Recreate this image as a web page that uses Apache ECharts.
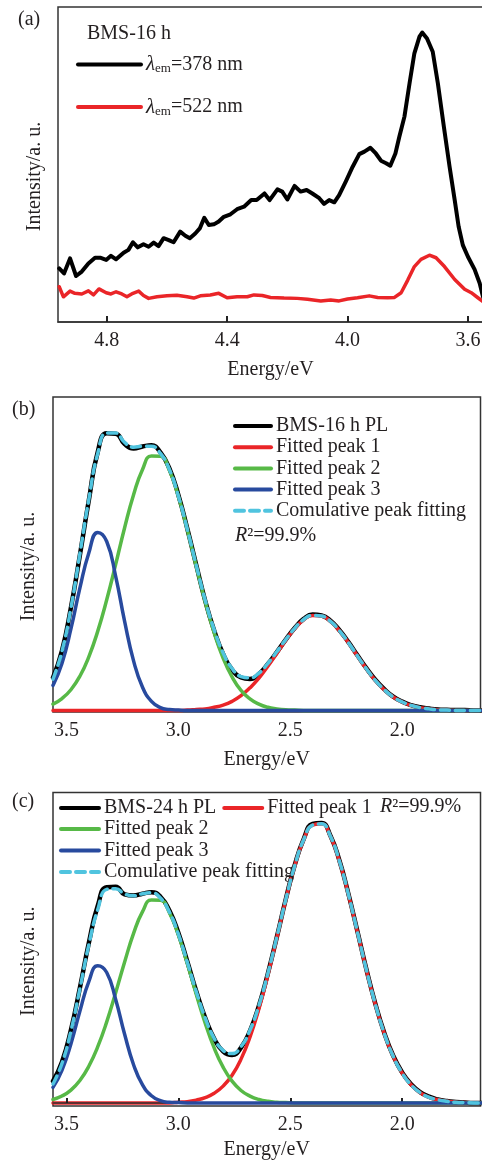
<!DOCTYPE html>
<html><head><meta charset="utf-8">
<script src="https://cdn.jsdelivr.net/npm/echarts@6/dist/echarts.min.js"></script>
<style>html,body{margin:0;padding:0;background:#fff}#chart{width:482px;height:1162px}</style>
</head><body><div id="chart"></div>
<script>
// ---------- Panel (a): excitation spectra ----------
const aEnergy378 = [4.958,4.942,4.922,4.902,4.883,4.861,4.839,4.822,4.802,4.786,4.769,4.744,4.728,4.713,4.697,4.678,4.661,4.644,4.628,4.611,4.594,4.578,4.556,4.539,4.524,4.506,4.491,4.476,4.461,4.444,4.428,4.411,4.389,4.367,4.344,4.320,4.302,4.276,4.259,4.233,4.217,4.200,4.176,4.156,4.136,4.117,4.094,4.078,4.061,4.044,4.028,4.006,3.983,3.961,3.944,3.924,3.906,3.889,3.872,3.858,3.841,3.828,3.811,3.794,3.778,3.761,3.752,3.736,3.717,3.700,3.680,3.661,3.644,3.631,3.617,3.600,3.578,3.561,3.550];
const aIntensity378 = [17.0,15.4,20.2,14.6,16.0,18.6,20.4,20.4,19.7,21.0,19.9,22.0,22.9,25.3,23.7,24.7,23.9,25.2,24.1,26.6,26.0,25.3,28.7,27.4,26.6,28.1,29.7,33.1,30.8,31.0,31.9,33.4,34.2,35.8,36.6,38.7,38.7,40.8,38.7,42.1,41.4,38.9,43.2,41.4,41.9,40.8,39.3,37.5,38.7,38.0,40.3,44.6,49.3,53.3,54.1,55.3,53.5,51.2,50.4,49.6,53.5,58.8,65.2,75.8,85.3,90.6,91.9,90.0,85.8,75.8,62.0,49.3,38.7,30.3,24.4,20.7,16.7,12.3,8.0];
const aEnergy522 = [4.958,4.944,4.922,4.906,4.883,4.861,4.844,4.826,4.802,4.786,4.769,4.750,4.733,4.713,4.694,4.678,4.661,4.633,4.600,4.567,4.533,4.511,4.489,4.456,4.428,4.400,4.367,4.333,4.311,4.283,4.256,4.211,4.167,4.133,4.089,4.056,4.028,4.000,3.967,3.928,3.900,3.867,3.844,3.822,3.800,3.778,3.756,3.728,3.706,3.678,3.644,3.611,3.589,3.567,3.550];
const aIntensity522 = [11.2,8.0,9.8,9.1,8.9,9.9,8.6,10.5,9.3,8.9,9.6,8.9,8.0,9.1,9.8,8.4,7.5,8.0,8.3,8.5,8.0,7.6,8.3,8.6,9.1,7.7,8.0,8.0,8.6,8.4,7.8,7.6,7.5,7.2,6.7,7.0,6.7,7.3,7.7,8.3,7.8,7.7,7.8,9.3,13.3,17.6,19.9,21.2,20.4,17.6,13.5,10.4,9.3,7.7,6.5];
const aTicks = [4.8, 4.4, 4.0, 3.6];

// ---------- Panels (b) and (c): PL peak fitting ----------
const fitEnergy = [3.56,3.52,3.48,3.44,3.40,3.36,3.32,3.28,3.24,3.20,3.16,3.12,3.08,3.04,3.00,2.96,2.92,2.88,2.84,2.80,2.76,2.72,2.68,2.64,2.60,2.56,2.52,2.48,2.44,2.40,2.36,2.32,2.28,2.24,2.20,2.16,2.12,2.08,2.04,2.00,1.96,1.92,1.88,1.84,1.80,1.76,1.72,1.68,1.64];
const fitTicks = [3.5, 3.0, 2.5, 2.0];

const bPL = [10.5,19.0,32.8,49.5,67.0,82.5,88.4,88.3,85.0,83.6,84.2,84.6,82.3,77.2,68.8,58.0,46.4,35.0,25.5,18.0,13.0,10.5,10.0,11.6,14.8,18.6,22.6,26.3,29.2,30.6,30.3,28.6,25.6,21.8,17.6,13.5,9.8,6.8,4.4,2.8,1.7,1.0,0.6,0.3,0.2,0.1,0.1,0,0];
const bPeak1 = [0,0,0,0,0,0,0,0,0,0,0,0,0,0,0,0.1,0.3,0.5,1.0,1.7,2.9,4.7,7.2,10.3,14.1,18.2,22.4,26.1,28.9,30.3,30.1,28.4,25.4,21.6,17.4,13.3,9.6,6.6,4.3,2.7,1.6,0.9,0.5,0.2,0.1,0,0,0,0];
const bPeak2 = [2.0,3.8,6.6,10.9,17.1,25.3,35.3,46.6,58.3,68.8,76.9,81.2,81.1,76.6,68.3,57.7,46.0,34.7,24.8,16.7,10.7,6.4,3.7,2.0,1.0,0.5,0.2,0.1,0,0,0,0,0,0,0,0,0,0,0,0,0,0,0,0,0,0,0,0,0];
const bPeak3 = [8.0,15.0,26.0,39.0,50.2,56.8,53.9,42.8,28.4,15.8,7.4,2.9,0.9,0.3,0.1,0,0,0,0,0,0,0,0,0,0,0,0,0,0,0,0,0,0,0,0,0,0,0,0,0,0,0,0,0,0,0,0,0,0];
const bCumulative = [10.0,18.8,32.6,49.9,67.3,82.0,88.5,88.5,85.5,84.0,84.3,84.3,82.0,76.9,68.4,57.8,46.3,35.2,25.8,18.4,13.4,10.8,10.4,11.9,15.0,18.7,22.6,26.2,29.0,30.3,30.1,28.4,25.4,21.6,17.4,13.3,9.6,6.6,4.3,2.7,1.6,0.9,0.5,0.2,0.1,0,0,0,0];

const cPL = [7.0,13.2,23.5,37.0,51.5,63.5,69.5,69.6,67.2,66.8,67.4,67.9,66.4,62.0,54.8,45.6,36.0,27.4,20.7,16.6,15.4,17.8,23.2,31.3,41.7,53.4,65.6,76.6,85.0,89.9,90.2,86.0,78.0,67.3,55.3,43.1,32.0,22.6,15.2,9.8,6.0,3.5,2.0,1.1,0.6,0.3,0.1,0,0];
const cPeak1 = [0,0,0,0,0,0,0,0,0,0,0,0,0,0,0.2,0.4,0.9,1.7,3.1,5.4,8.9,14.1,21.2,30.3,41.2,53.2,65.4,76.4,84.8,89.5,89.9,85.8,77.8,67.1,55.1,42.9,31.8,22.4,15.0,9.6,5.8,3.3,1.8,1.0,0.5,0.2,0.1,0,0];
const cPeak2 = [1.1,2.2,4.1,7.2,11.8,18.1,26.1,35.5,45.4,54.6,61.6,65.4,65.3,61.3,54.1,44.9,35.0,25.7,17.7,11.5,7.0,4.0,2.2,1.1,0.5,0.2,0.1,0,0,0,0,0,0,0,0,0,0,0,0,0,0,0,0,0,0,0,0,0,0];
const cPeak3 = [5.0,10.5,19.0,29.5,39.1,44.2,42.0,33.3,22.1,12.3,5.8,2.3,0.7,0.2,0.1,0,0,0,0,0,0,0,0,0,0,0,0,0,0,0,0,0,0,0,0,0,0,0,0,0,0,0,0,0,0,0,0,0,0];
const cCumulative = [6.1,12.7,23.1,36.7,50.9,62.3,68.8,69.0,67.3,66.7,67.4,67.7,66.0,61.5,54.4,45.3,35.9,27.4,20.8,16.9,15.9,18.1,23.4,31.4,41.7,53.4,65.5,76.4,84.8,89.5,89.9,85.8,77.8,67.1,55.1,42.9,31.8,22.4,15.0,9.6,5.8,3.3,1.8,1.0,0.5,0.2,0.1,0,0];

// ---------- styling ----------
const FONT = 'Liberation Serif';
const TXT = '#231f20';
const C_BLACK = '#000000', C_RED = '#ea2528', C_GREEN = '#57b947', C_BLUE = '#284a9e', C_CYAN = '#50c4df';
const zip = (xs, ys) => xs.map((x, i) => [x, ys[i]]);

function xAxisCfg(gridIndex, min, max, ticks, tickOpts, nameGap) {
  return {
    type: 'value', gridIndex, min, max, inverse: true,
    name: 'Energy/eV', nameLocation: 'middle', nameGap: nameGap || 38,
    nameTextStyle: { fontFamily: FONT, fontSize: 20, color: TXT },
    axisLine: { show: true, lineStyle: { color: '#333', width: 1.5 } },
    axisTick: Object.assign({ show: true, inside: true, length: 6, customValues: ticks, lineStyle: { color: '#222', width: 2 } }, tickOpts || {}),
    axisLabel: { customValues: ticks, margin: 9, fontFamily: FONT, fontSize: 20, color: TXT, formatter: v => Number(v).toFixed(1) },
    splitLine: { show: false }
  };
}
function yAxisCfg(gridIndex, min, max, gap) {
  return {
    type: 'value', gridIndex, min, max,
    name: 'Intensity/a. u.', nameLocation: 'middle', nameGap: gap, nameRotate: 90,
    nameTextStyle: { fontFamily: FONT, fontSize: 20, color: TXT, padding: [0, 24, 0, 0] },
    axisLine: { show: false }, axisTick: { show: false }, axisLabel: { show: false }, splitLine: { show: false }
  };
}
function line(name, xi, data, color, width, dash, smooth, z) {
  return {
    type: 'line', name, xAxisIndex: xi, yAxisIndex: xi, data,
    symbol: 'none', smooth: smooth ? 0.5 : false,
    lineStyle: { color, width, type: dash || 'solid', cap: 'round', join: 'round' },
    itemStyle: { color }, z: z || 2, animation: false
  };
}
const legendText = { fontFamily: FONT, fontSize: 20, color: TXT,
  rich: { i: { fontFamily: FONT, fontSize: 21, fontStyle: 'italic', color: TXT },
          s: { fontFamily: FONT, fontSize: 13, color: TXT, padding: [9, 0, 0, 0] } } };
function legendCfg(data, left, top, orient, itemWidth, itemGap) {
  return {
    data, left, top, orient, itemWidth, itemHeight: 20, itemGap, padding: 0,
    textStyle: legendText, selectedMode: false,
    lineStyle: { width: 4, cap: 'round' }, itemStyle: { opacity: 0 },
    formatter: n => n.replace('λem', '{i|λ}{s|em}')
  };
}
const titleTxt = (text, left, top) => ({
  text, left, top, padding: 0,
  textStyle: { fontFamily: FONT, fontSize: 20, fontWeight: 'normal', color: TXT,
    rich: { i: { fontFamily: FONT, fontSize: 20, fontStyle: 'italic', color: TXT } } }
});
const gridCfg = (top, left, width, height) => ({
  left, top, width, height, show: true, borderColor: '#333', borderWidth: 1.5,
  containLabel: false, outerBoundsMode: 'none'
});

const chart = echarts.init(document.getElementById('chart'), null, { renderer: 'canvas', width: 482, height: 1162 });
chart.setOption({
  animation: false,
  backgroundColor: '#fff',
  title: [
    titleTxt('(a)', 18, 10), titleTxt('BMS-16 h', 87, 24),
    titleTxt('(b)', 12, 400), titleTxt('{i|R}²=99.9%', 235, 526),
    titleTxt('(c)', 12, 792), titleTxt('{i|R}²=99.9%', 380, 797)
  ],
  grid: [
    gridCfg(7, 58, 425, 315),
    gridCfg(397, 53, 427.5, 315),
    gridCfg(792.5, 53, 427.5, 313.5)
  ],
  xAxis: [
    xAxisCfg(0, 3.55, 4.962, aTicks),
    xAxisCfg(1, 1.65, 3.56, fitTicks, { show: false }),
    Object.assign(xAxisCfg(2, 1.65, 3.56, fitTicks, { length: 5 }, 34), { z: 5 })
  ],
  yAxis: [ yAxisCfg(0, 0, 100, 13), yAxisCfg(1, -0.5, 100, 14), yAxisCfg(2, -1, 100, 14) ],
  legend: [
    legendCfg(['λem=378 nm', 'λem=522 nm'], 76, 54, 'vertical', 63, 21),
    legendCfg(['BMS-16 h PL', 'Fitted peak 1', 'Fitted peak 2', 'Fitted peak 3', 'Comulative peak fitting'], 233, 416, 'vertical', 36, 1.2),
    legendCfg(['BMS-24 h PL', 'Fitted peak 1'], 59, 798, 'horizontal', 38, 6),
    legendCfg(['Fitted peak 2', 'Fitted peak 3', 'Comulative peak fitting'], 59, 819, 'vertical', 38, 1.5)
  ],
  series: [
    line('λem=378 nm', 0, zip(aEnergy378, aIntensity378), C_BLACK, 4, null, false, 3),
    line('λem=522 nm', 0, zip(aEnergy522, aIntensity522), C_RED, 3.5, null, false, 2),

    line('BMS-16 h PL', 1, zip(fitEnergy, bPL), C_BLACK, 4.5, null, true, 2),
    line('Fitted peak 1', 1, zip(fitEnergy, bPeak1), C_RED, 3.5, null, true, 3),
    line('Fitted peak 2', 1, zip(fitEnergy, bPeak2), C_GREEN, 3.5, null, true, 4),
    line('Fitted peak 3', 1, zip(fitEnergy, bPeak3), C_BLUE, 3.5, null, true, 5),
    line('Comulative peak fitting', 1, zip(fitEnergy, bCumulative), C_CYAN, 3.5, [9, 6], true, 6),

    line('BMS-24 h PL', 2, zip(fitEnergy, cPL), C_BLACK, 4.5, null, true, 2),
    line('Fitted peak 1', 2, zip(fitEnergy, cPeak1), C_RED, 3.5, null, true, 3),
    line('Fitted peak 2', 2, zip(fitEnergy, cPeak2), C_GREEN, 3.5, null, true, 4),
    line('Fitted peak 3', 2, zip(fitEnergy, cPeak3), C_BLUE, 3.5, null, true, 5),
    line('Comulative peak fitting', 2, zip(fitEnergy, cCumulative), C_CYAN, 3.5, [9, 6], true, 6)
  ]
});
</script></body></html>
